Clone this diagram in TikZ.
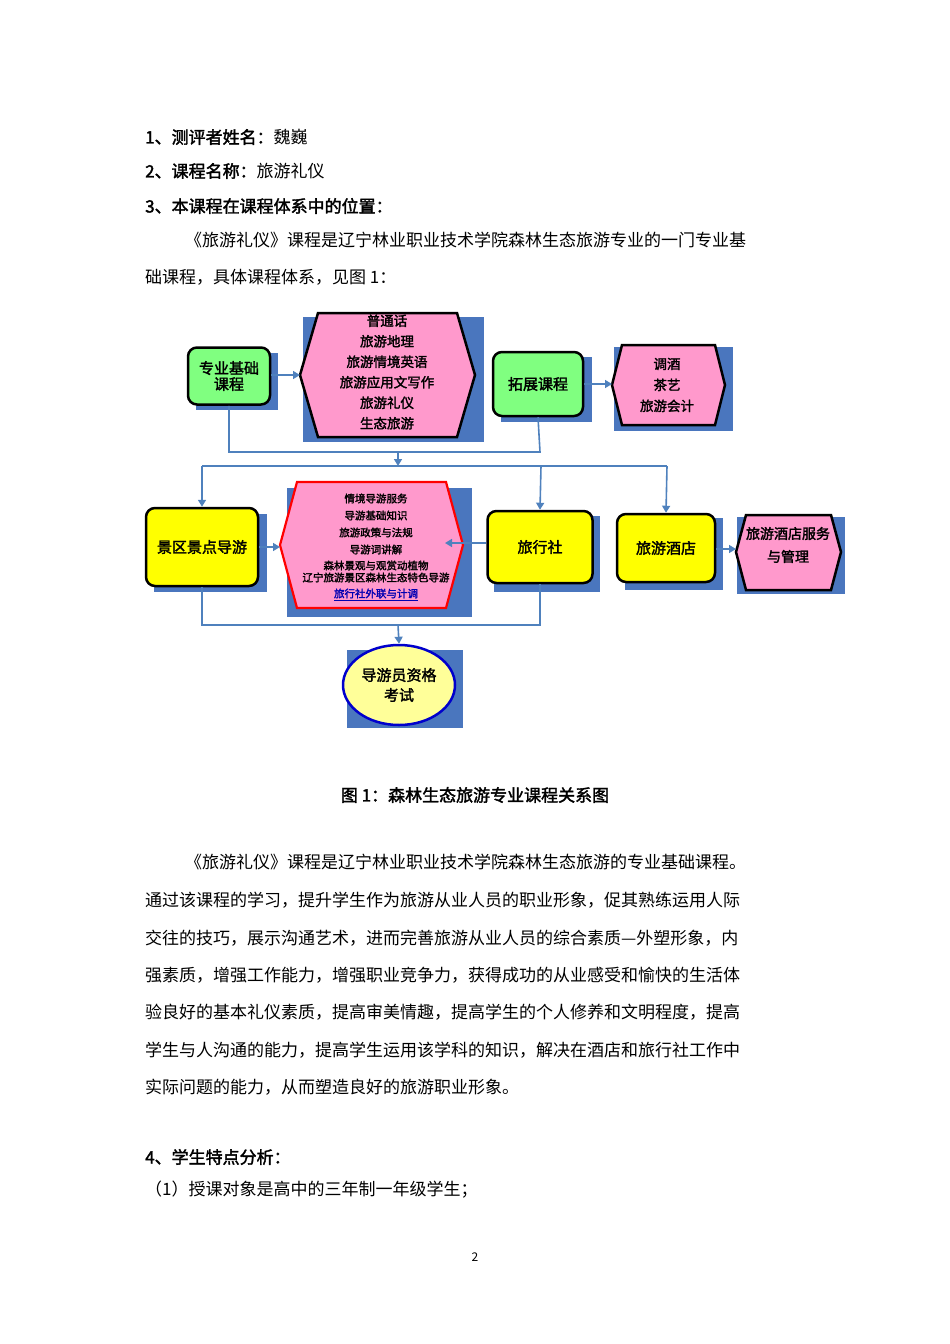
\documentclass[tikz,border=0pt]{standalone}
\usepackage{fontspec}
\setmainfont{Noto Sans CJK SC}
\newfontfamily\cjkb[FakeBold=2]{Noto Sans CJK SC}
\usetikzlibrary{shapes.geometric,arrows.meta}
\definecolor{shad}{HTML}{4A76BE}
\definecolor{pk}{HTML}{FF99CC}
\definecolor{gr}{HTML}{80FF80}
\definecolor{yl}{HTML}{FFFF00}
\definecolor{lyl}{HTML}{FFFF99}
\definecolor{ln}{HTML}{4F81BD}
\tikzset{
 body/.style={anchor=west,font=\fontsize{17}{17}\selectfont,inner sep=0pt},
 conn/.style={ln,line width=1.6pt},
 arr/.style={conn,-{Triangle[length=7pt,width=8pt]}},
 lbl/.style={font=\cjkb\fontsize{15}{20}\selectfont,align=center,inner sep=0pt},
 box/.style={draw=black,line width=2.5pt,rounded corners=9pt},
}
\begin{document}
\begin{tikzpicture}[x=1pt,y=-1pt]
\useasboundingbox (0,0) rectangle (950,1344);
% text
\node[body] (t1) at (145,137) {\cjkb 1、测评者姓名：\normalfont 魏巍};
\node[body] (t2) at (145,171) {\cjkb 2、课程名称：\normalfont 旅游礼仪};
\node[body] (t3) at (145,206) {\cjkb 3、本课程在课程体系中的位置：};
\node[body] (t4) at (185,240) {《旅游礼仪》课程是辽宁林业职业技术学院森林生态旅游专业的一门专业基};
\node[body] (t5) at (145,277) {础课程，具体课程体系，见图 1：};
\node[font=\cjkb\fontsize{17}{17}\selectfont] (cap) at (475,795) {图 1：森林生态旅游专业课程关系图};
\node[body] (p1) at (185,862) {《旅游礼仪》课程是辽宁林业职业技术学院森林生态旅游的专业基础课程。};
\node[body] (p2) at (145,900) {通过该课程的学习，提升学生作为旅游从业人员的职业形象，促其熟练运用人际};
\node[body] (p3) at (145,938) {交往的技巧，展示沟通艺术，进而完善旅游从业人员的综合素质---外塑形象，内};
\node[body] (p4) at (145,975) {强素质，增强工作能力，增强职业竞争力，获得成功的从业感受和愉快的生活体};
\node[body] (p5) at (145,1012) {验良好的基本礼仪素质，提高审美情趣，提高学生的个人修养和文明程度，提高};
\node[body] (p6) at (145,1050) {学生与人沟通的能力，提高学生运用该学科的知识，解决在酒店和旅行社工作中};
\node[body] (p7) at (145,1087) {实际问题的能力，从而塑造良好的旅游职业形象。};
\node[body] (t6) at (145,1157) {\cjkb 4、学生特点分析：};
\node[body] (t7) at (145,1190) {（1）授课对象是高中的三年制一年级学生；};
\node[font=\fontsize{12}{12}\selectfont] (pg) at (475,1257) {2};
% shadows
\fill[shad] (196,353) rectangle (278,410);
\fill[shad] (303,317) rectangle (484,442);
\fill[shad] (501,357) rectangle (592,422);
\fill[shad] (614,347) rectangle (733,431);
\fill[shad] (154,514) rectangle (267,592);
\fill[shad] (287,488) rectangle (472,617);
\fill[shad] (494,516) rectangle (600,592);
\fill[shad] (625,518) rectangle (723,590);
\fill[shad] (737,517) rectangle (845,594);
\fill[shad] (347,650) rectangle (463,728);
% nodes
\node[box,fill=gr,minimum width=82pt,minimum height=57pt,lbl] (zy) at (229,376) {专业基础\\[-4pt]课程};
\draw[line width=2.5pt,fill=pk] (300,375)--(318,313)--(457,313)--(475,375)--(457,437)--(318,437)--cycle;
\node[lbl,font=\cjkb\fontsize{13.5}{20.5}\selectfont] (h1) at (387,372) {普通话\\旅游地理\\旅游情境英语\\旅游应用文写作\\旅游礼仪\\生态旅游};
\node[box,fill=gr,minimum width=90pt,minimum height=64pt,lbl] (tz) at (538,384) {拓展课程};
\draw[line width=2.5pt,fill=pk] (612,385)--(622,345)--(715,345)--(725,385)--(715,425)--(622,425)--cycle;
\node[lbl,font=\cjkb\fontsize{13.5}{21}\selectfont] (h2) at (667,385) {调酒\\茶艺\\旅游会计};
\node[box,fill=yl,minimum width=112pt,minimum height=78pt,lbl] (jq) at (202,547) {景区景点导游};
\draw[line width=2.2pt,draw=red,fill=pk] (280,545)--(297,482)--(446,482)--(463,545)--(446,608)--(297,608)--cycle;
\node[lbl,font=\cjkb\fontsize{10.5}{17}\selectfont] (h3) at (376,547) {情境导游服务\\导游基础知识\\旅游政策与法规\\导游词讲解\\[-1pt]森林景观与观赏动植物\\[-5pt]辽宁旅游景区森林生态特色导游\\[-1pt]{\color{blue!70!black}\itshape\underline{旅行社外联与计调}}};
\node[box,fill=yl,minimum width=105pt,minimum height=72pt,lbl] (lx) at (540,547) {旅行社};
\node[box,fill=yl,minimum width=98pt,minimum height=68pt,lbl] (jd) at (666,548) {旅游酒店};
\draw[line width=2.5pt,fill=pk] (736,552)--(746,515)--(831,515)--(841,552)--(831,590)--(746,590)--cycle;
\node[lbl,font=\cjkb\fontsize{14}{23}\selectfont] (h4) at (788,545) {旅游酒店服务\\与管理};
\node[ellipse,draw=blue!80!black,line width=2.5pt,fill=lyl,minimum width=112pt,minimum height=80pt,lbl] (ks) at (399,685) {导游员资格\\考试};
% connectors
\coordinate (h1w) at (300,375); \coordinate (h2w) at (612,384);
\coordinate (h3w) at (280,547); \coordinate (h3e) at (445,543);
\coordinate (h4w) at (736,549);
\draw[arr] (zy.east|-0,375) -- (h1w);
\draw[arr] (tz.east|-0,384) -- (h2w);
\draw[conn] (zy.south) |- (540,452) -- (tz.south);
\coordinate (m1) at (398,452); \coordinate (m2) at (398,466);
\draw[arr] (m1) -- (m2);
\draw[conn] (202,466) -- (667,466);
\draw[arr] (202,466) -- (jq.north);
\draw[arr] (541,466) -- (lx.north);
\draw[arr] (667,466) -- (jd.north);
\draw[arr] (jq.east|-0,547) -- (h3w);
\draw[arr] (lx.west|-0,543) -- (h3e);
\draw[arr] (jd.east|-0,549) -- (h4w);
\draw[conn] (jq.south) |- (540,625) -- (lx.south);
\draw[arr] (398,625) -- (ks.north);
\end{tikzpicture}
\end{document}
